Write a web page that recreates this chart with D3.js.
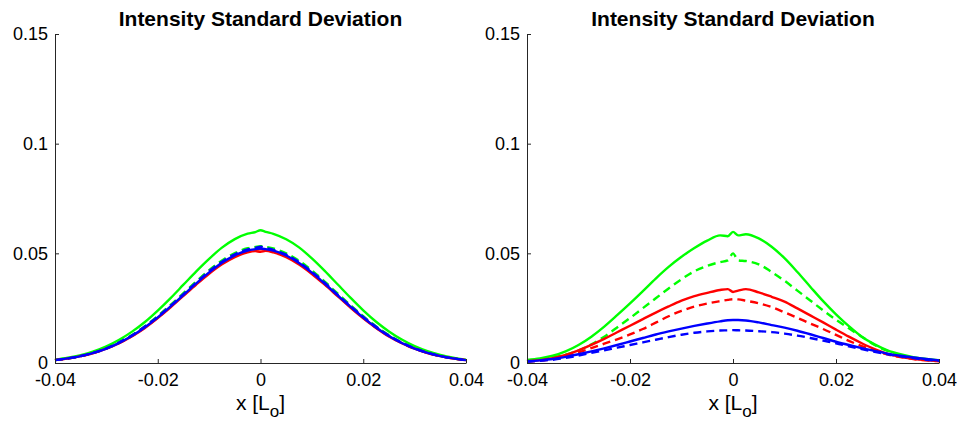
<!DOCTYPE html>
<html>
<head>
<meta charset="utf-8">
<script src="https://cdn.jsdelivr.net/npm/d3@7"></script>
<style>
  body { margin: 0; background: #fff; }
  text { font-family: "Liberation Sans", Arial, Helvetica, sans-serif; }
</style>
</head>
<body>
<script>
// x positions (L_o) of the samples
var xs = [-0.04, -0.0375, -0.035, -0.0325, -0.03, -0.0275, -0.025, -0.0225, -0.02, -0.0175,
  -0.015, -0.0125, -0.01, -0.0075, -0.005, -0.0025, -0.001, 0, 0.001, 0.0025,
  0.005, 0.0075, 0.01, 0.0125, 0.015, 0.0175, 0.02, 0.0225, 0.025, 0.0275,
  0.03, 0.0325, 0.035, 0.0375, 0.04];

var xTicks = [-0.04, -0.02, 0, 0.02, 0.04];
var yTicks = [0, 0.05, 0.1, 0.15];
var title = "Intensity Standard Deviation";

// left panel
var leftGreen = [0.0015, 0.0024, 0.0036, 0.0053, 0.0076, 0.0106, 0.0143, 0.0187, 0.0239, 0.0296,
  0.0357, 0.0418, 0.0475, 0.0526, 0.0565, 0.0590, 0.0597, 0.0605, 0.0598, 0.0589,
  0.0564, 0.0527, 0.0477, 0.0420, 0.0359, 0.0298, 0.0240, 0.0188, 0.0144, 0.0107,
  0.0077, 0.0054, 0.0037, 0.0024, 0.0015];
var leftGreenDash = [0.0014, 0.0021, 0.0032, 0.0047, 0.0068, 0.0095, 0.0128, 0.0168, 0.0214, 0.0265,
  0.0318, 0.0372, 0.0423, 0.0467, 0.0501, 0.0523, 0.0529, 0.0533, 0.0529, 0.0522,
  0.0500, 0.0466, 0.0422, 0.0371, 0.0317, 0.0264, 0.0213, 0.0167, 0.0127, 0.0094,
  0.0068, 0.0047, 0.0032, 0.0021, 0.0014];
var leftRed = [0.0013, 0.0020, 0.0031, 0.0045, 0.0065, 0.0090, 0.0122, 0.0160, 0.0205, 0.0254,
  0.0306, 0.0358, 0.0407, 0.0450, 0.0483, 0.0505, 0.0510, 0.0507, 0.0511, 0.0504,
  0.0482, 0.0449, 0.0406, 0.0357, 0.0305, 0.0253, 0.0204, 0.0160, 0.0121, 0.0090,
  0.0065, 0.0045, 0.0031, 0.0020, 0.0013];
var leftRedDash = [0.0013, 0.0021, 0.0031, 0.0046, 0.0066, 0.0091, 0.0123, 0.0162, 0.0207, 0.0257,
  0.0309, 0.0362, 0.0411, 0.0455, 0.0489, 0.0511, 0.0516, 0.0519, 0.0516, 0.0510,
  0.0488, 0.0454, 0.0410, 0.0361, 0.0308, 0.0256, 0.0206, 0.0161, 0.0123, 0.0091,
  0.0065, 0.0046, 0.0031, 0.0021, 0.0013];
var leftBlue = [0.0013, 0.0021, 0.0031, 0.0046, 0.0066, 0.0092, 0.0124, 0.0163, 0.0208, 0.0258,
  0.0310, 0.0363, 0.0413, 0.0457, 0.0491, 0.0513, 0.0519, 0.0522, 0.0519, 0.0512,
  0.0490, 0.0456, 0.0412, 0.0362, 0.0309, 0.0257, 0.0207, 0.0162, 0.0123, 0.0091,
  0.0066, 0.0046, 0.0031, 0.0021, 0.0013];
var leftBlueDash = [0.0013, 0.0021, 0.0032, 0.0047, 0.0067, 0.0094, 0.0126, 0.0166, 0.0211, 0.0261,
  0.0314, 0.0367, 0.0418, 0.0462, 0.0496, 0.0518, 0.0525, 0.0530, 0.0524, 0.0516,
  0.0494, 0.0460, 0.0416, 0.0366, 0.0312, 0.0260, 0.0210, 0.0165, 0.0125, 0.0093,
  0.0067, 0.0047, 0.0032, 0.0021, 0.0013];

// right panel
var rightGreen = [0.0014, 0.0021, 0.0033, 0.0053, 0.0082, 0.0120, 0.0166, 0.0218, 0.0272, 0.0328,
  0.0385, 0.0438, 0.0484, 0.0524, 0.0558, 0.0582, 0.0578, 0.0598, 0.0582, 0.0587,
  0.0568, 0.0530, 0.0478, 0.0415, 0.0348, 0.0282, 0.0222, 0.0168, 0.0120, 0.0085,
  0.0058, 0.0040, 0.0027, 0.0019, 0.0013];
var rightGreenDash = [0.0010, 0.0015, 0.0024, 0.0038, 0.0058, 0.0085, 0.0120, 0.0162, 0.0205, 0.0250,
  0.0295, 0.0340, 0.0382, 0.0418, 0.0443, 0.0460, 0.0468, 0.0500, 0.0468, 0.0465,
  0.0450, 0.0415, 0.0375, 0.0330, 0.0285, 0.0240, 0.0197, 0.0158, 0.0120, 0.0082,
  0.0055, 0.0036, 0.0024, 0.0016, 0.0010];
var rightRed = [0.0008, 0.0013, 0.0022, 0.0037, 0.0058, 0.0083, 0.0110, 0.0140, 0.0170, 0.0200,
  0.0230, 0.0258, 0.0284, 0.0305, 0.0320, 0.0333, 0.0337, 0.0324, 0.0330, 0.0337,
  0.0322, 0.0302, 0.0280, 0.0249, 0.0217, 0.0185, 0.0152, 0.0120, 0.0090, 0.0063,
  0.0042, 0.0028, 0.0019, 0.0013, 0.0009];
var rightRedDash = [0.0007, 0.0011, 0.0018, 0.0030, 0.0048, 0.0068, 0.0088, 0.0108, 0.0130, 0.0155,
  0.0184, 0.0213, 0.0238, 0.0257, 0.0271, 0.0282, 0.0288, 0.0291, 0.0290, 0.0284,
  0.0272, 0.0255, 0.0231, 0.0206, 0.0180, 0.0155, 0.0128, 0.0101, 0.0077, 0.0056,
  0.0039, 0.0027, 0.0018, 0.0012, 0.0008];
var rightBlue = [0.0008, 0.0012, 0.0018, 0.0028, 0.0040, 0.0053, 0.0067, 0.0082, 0.0098, 0.0114,
  0.0130, 0.0144, 0.0157, 0.0169, 0.0180, 0.0190, 0.0195, 0.0196, 0.0196, 0.0194,
  0.0185, 0.0173, 0.0161, 0.0147, 0.0131, 0.0114, 0.0097, 0.0082, 0.0068, 0.0055,
  0.0043, 0.0033, 0.0025, 0.0018, 0.0012];
var rightBlueDash = [0.0006, 0.0010, 0.0015, 0.0023, 0.0034, 0.0046, 0.0058, 0.0070, 0.0082, 0.0094,
  0.0106, 0.0118, 0.0129, 0.0138, 0.0144, 0.0148, 0.0149, 0.0150, 0.0149, 0.0148,
  0.0145, 0.0141, 0.0134, 0.0125, 0.0114, 0.0102, 0.0090, 0.0076, 0.0063, 0.0051,
  0.0040, 0.0030, 0.0022, 0.0015, 0.0010];

var panels = [
  { left: 55, right: 466, series: [
      { y: leftGreen, color: "#00ff00", dash: false },
      { y: leftGreenDash, color: "#00ff00", dash: true },
      { y: leftRed, color: "#ff0000", dash: false },
      { y: leftRedDash, color: "#ff0000", dash: true },
      { y: leftBlue, color: "#0000ff", dash: false },
      { y: leftBlueDash, color: "#0000ff", dash: true }] },
  { left: 527, right: 939, series: [
      { y: rightGreen, color: "#00ff00", dash: false },
      { y: rightGreenDash, color: "#00ff00", dash: true },
      { y: rightRed, color: "#ff0000", dash: false },
      { y: rightRedDash, color: "#ff0000", dash: true },
      { y: rightBlue, color: "#0000ff", dash: false },
      { y: rightBlueDash, color: "#0000ff", dash: true }] }
];

var width = 957, height = 422;
var plotTop = 34, plotBottom = 363;

var svg = d3.select("body").append("svg")
    .attr("width", width)
    .attr("height", height);

panels.forEach(function(p) {
  var x = d3.scaleLinear().domain([-0.04, 0.04]).range([p.left, p.right]);
  var y = d3.scaleLinear().domain([0, 0.15]).range([plotBottom, plotTop]);

  var g = svg.append("g");

  var line = d3.line()
      .x(function(d, i) { return x(xs[i]); })
      .y(function(d) { return y(d); })
      .curve(d3.curveMonotoneX);

  p.series.forEach(function(s) {
    g.append("path")
      .attr("d", line(s.y))
      .attr("fill", "none")
      .attr("stroke", s.color)
      .attr("stroke-width", 2.4)
      .attr("stroke-dasharray", s.dash ? "8,5" : null);
  });

  // axes, ticks pointing inward like matlab
  var xAxis = g.append("g")
      .attr("transform", "translate(0," + plotBottom + ")")
      .call(d3.axisBottom(x).tickValues(xTicks).tickFormat(function(d) { return String(d); })
        .tickSizeInner(-4).tickSizeOuter(0).tickPadding(10));
  var yAxis = g.append("g")
      .attr("transform", "translate(" + p.left + ",0)")
      .call(d3.axisLeft(y).tickValues(yTicks).tickFormat(function(d) { return String(d); })
        .tickSizeInner(-4).tickSizeOuter(0).tickPadding(7));

  [xAxis, yAxis].forEach(function(a) {
    a.select(".domain").attr("stroke", "#262626").attr("stroke-width", 1);
    a.selectAll(".tick line").attr("stroke", "#262626");
    a.selectAll(".tick text")
      .attr("font-size", 18)
      .attr("font-family", "Liberation Sans, Arial, sans-serif")
      .attr("fill", "#000");
  });

  var cx = (p.left + p.right) / 2;

  svg.append("text")
    .attr("x", cx)
    .attr("y", 26)
    .attr("text-anchor", "middle")
    .attr("font-size", 21)
    .attr("font-weight", "bold")
    .text(title);

  var xl = svg.append("text")
    .attr("x", cx)
    .attr("y", 410)
    .attr("text-anchor", "middle")
    .attr("font-size", 21);
  xl.append("tspan").text("x [L");
  xl.append("tspan").attr("dy", 7).attr("font-size", 17).text("o");
  xl.append("tspan").attr("dy", -7).text("]");
});
</script>
</body>
</html>
